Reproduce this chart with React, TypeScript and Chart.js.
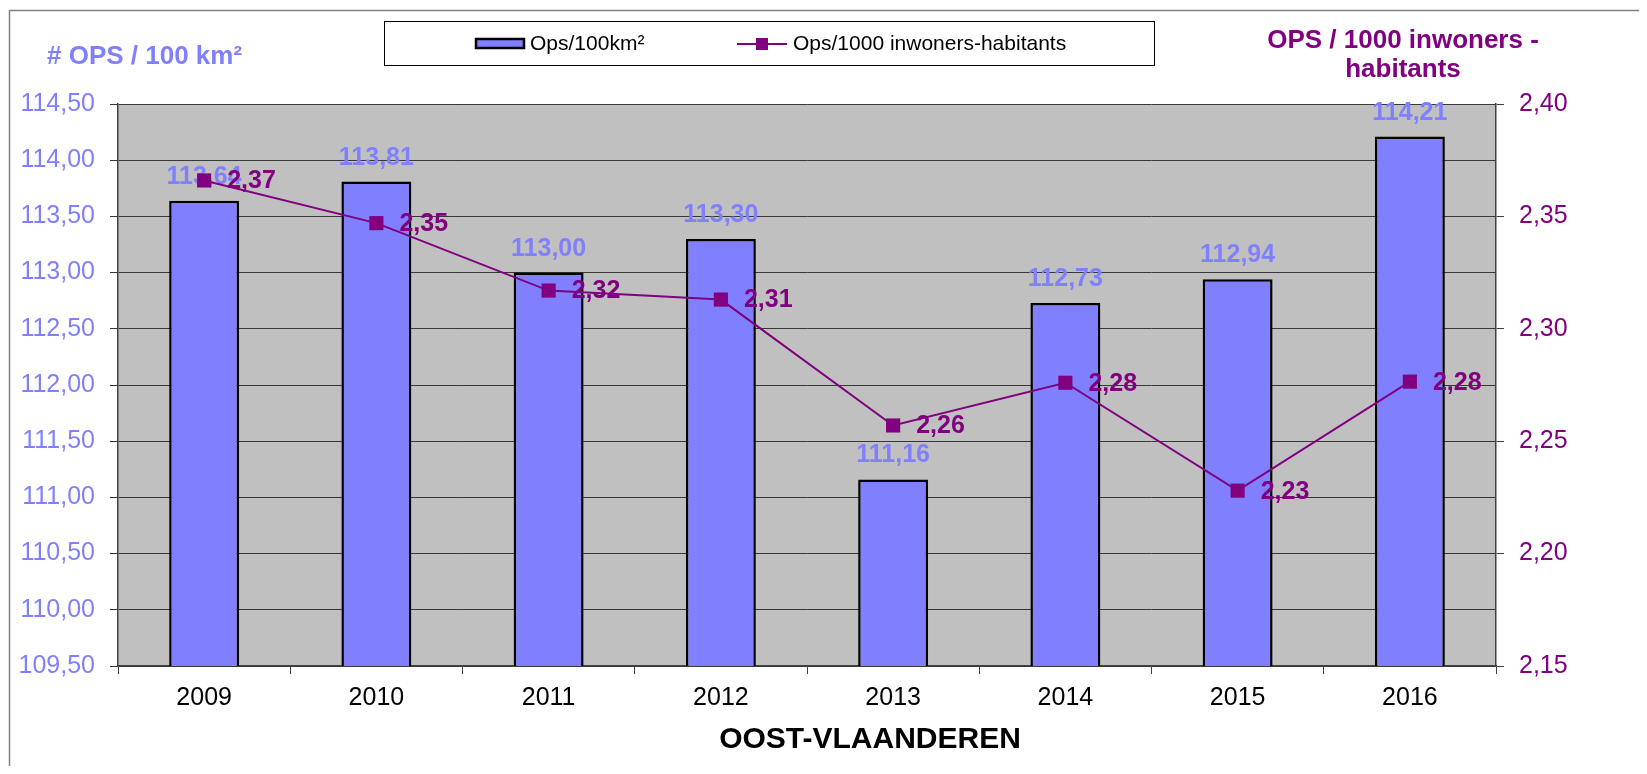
import React, { useEffect, useRef } from 'react';
import { Chart, registerables } from 'chart.js';

Chart.register(...registerables);

// ---- data ----
const years = ['2009', '2010', '2011', '2012', '2013', '2014', '2015', '2016'];
const opsPer100km2 = [113.64, 113.81, 113.0, 113.3, 111.16, 112.73, 112.94, 114.21];
const opsPer1000 = [2.366, 2.347, 2.317, 2.313, 2.257, 2.276, 2.228, 2.2765];
const legendLabels = ['Ops/100km²', 'Ops/1000 inwoners-habitants'];
const leftTitle = '# OPS / 100 km²';
const rightTitle = ['OPS / 1000 inwoners -', 'habitants'];
const xTitle = 'OOST-VLAANDEREN';

const FONT = '"Liberation Sans", Arial, sans-serif';
const BAR_COLOR = '#8080FF';
const LINE_COLOR = '#800080';
const W = 1631;
const H = 758;

const fmt = (v: number) => v.toFixed(2).replace('.', ',');

const decorPlugin = {
  id: 'decor',
  beforeDraw(chart: any) {
    const { ctx, chartArea } = chart;
    ctx.save();
    ctx.fillStyle = '#C0C0C0';
    ctx.fillRect(chartArea.left, chartArea.top, chartArea.right - chartArea.left, chartArea.bottom - chartArea.top);
    // outer frame
    ctx.strokeStyle = '#808080';
    ctx.lineWidth = 1.5;
    ctx.strokeRect(1.5, 2.5, W + 20, H + 20);
    ctx.restore();
  },
  afterDatasetDraw(chart: any, args: any) {
    if (args.index !== 0) return;
    const { ctx } = chart;
    const meta = chart.getDatasetMeta(0);
    ctx.save();
    ctx.font = `bold 25px ${FONT}`;
    ctx.fillStyle = BAR_COLOR;
    ctx.textAlign = 'center';
    ctx.textBaseline = 'alphabetic';
    meta.data.forEach((el: any, i: number) => {
      ctx.fillText(fmt(opsPer100km2[i]), el.x, el.y - 17);
    });
    ctx.restore();
  },
  afterDatasetsDraw(chart: any) {
    const { ctx } = chart;
    const meta = chart.getDatasetMeta(1);
    ctx.save();
    ctx.font = `bold 25px ${FONT}`;
    ctx.fillStyle = LINE_COLOR;
    ctx.textAlign = 'left';
    ctx.textBaseline = 'middle';
    meta.data.forEach((el: any, i: number) => {
      ctx.fillText(fmt(opsPer1000[i]), el.x + 23, el.y + 1);
    });
    ctx.restore();
  },
  afterDraw(chart: any) {
    const { ctx } = chart;
    ctx.save();
    // left axis title
    ctx.font = `bold 26px ${FONT}`;
    ctx.fillStyle = BAR_COLOR;
    ctx.textAlign = 'left';
    ctx.textBaseline = 'alphabetic';
    ctx.fillText(leftTitle, 39, 56);
    // right axis title
    ctx.fillStyle = LINE_COLOR;
    ctx.textAlign = 'center';
    ctx.fillText(rightTitle[0], 1395, 40);
    ctx.fillText(rightTitle[1], 1395, 69);
    // x title
    ctx.font = `bold 30px ${FONT}`;
    ctx.fillStyle = '#000';
    ctx.fillText(xTitle, 862, 740);
    // legend box
    ctx.fillStyle = '#fff';
    ctx.fillRect(376.5, 13.5, 770, 44);
    ctx.strokeStyle = '#000';
    ctx.lineWidth = 1;
    ctx.strokeRect(376.5, 13.5, 770, 44);
    // legend bar swatch
    ctx.fillStyle = BAR_COLOR;
    ctx.fillRect(467, 30, 50, 11);
    ctx.strokeStyle = '#000';
    ctx.lineWidth = 2.5;
    ctx.strokeRect(468, 31, 48, 9);
    ctx.font = `21px ${FONT}`;
    ctx.fillStyle = '#000';
    ctx.textAlign = 'left';
    ctx.textBaseline = 'middle';
    ctx.fillText(legendLabels[0], 522, 36);
    // legend line swatch
    ctx.strokeStyle = LINE_COLOR;
    ctx.lineWidth = 2;
    ctx.beginPath();
    ctx.moveTo(729, 36);
    ctx.lineTo(779, 36);
    ctx.stroke();
    ctx.fillStyle = LINE_COLOR;
    ctx.fillRect(748, 30, 12, 12);
    ctx.fillStyle = '#000';
    ctx.fillText(legendLabels[1], 785, 36);
    ctx.restore();
  },
};

export default function App() {
  const ref = useRef<HTMLCanvasElement | null>(null);
  useEffect(() => {
    if (!ref.current) return;
    Chart.defaults.font.family = FONT;
    const chart = new Chart(ref.current, {
      type: 'bar',
      data: {
        labels: years,
        datasets: [
          {
            type: 'bar',
            label: legendLabels[0],
            data: opsPer100km2,
            backgroundColor: BAR_COLOR,
            borderColor: '#000',
            borderWidth: 2.5,
            borderSkipped: false,
            barPercentage: 0.406,
            categoryPercentage: 1,
            yAxisID: 'y',
            order: 2,
          } as any,
          {
            type: 'line',
            label: legendLabels[1],
            data: opsPer1000,
            borderColor: LINE_COLOR,
            borderWidth: 2,
            backgroundColor: LINE_COLOR,
            pointStyle: 'rect',
            pointRadius: 10,
            pointBorderWidth: 0,
            pointBackgroundColor: LINE_COLOR,
            tension: 0,
            yAxisID: 'y1',
            order: 1,
          } as any,
        ],
      },
      options: {
        responsive: false,
        animation: false,
        devicePixelRatio: 1,
        layout: { padding: { top: 96, left: 0, right: 0, bottom: 0 } },
        plugins: {
          legend: { display: false },
          tooltip: { enabled: false },
          title: { display: false },
        },
        scales: {
          x: {
            type: 'category',
            offset: true,
            grid: {
              offset: true,
              drawOnChartArea: false,
              drawTicks: true,
              tickLength: 8,
              color: '#404040',
            },
            border: { display: true, color: '#404040', width: 1.5 },
            ticks: { color: '#000', font: { size: 25 }, padding: 9, maxRotation: 0 },
            afterFit: (s: any) => {
              s.height = 100;
            },
          },
          y: {
            type: 'linear',
            position: 'left',
            min: 109.5,
            max: 114.5,
            grid: { color: '#383838', lineWidth: 1, tickLength: 8 },
            border: { display: true, color: '#404040', width: 1.5 },
            ticks: {
              stepSize: 0.5,
              color: BAR_COLOR,
              font: { size: 25 },
              padding: 15,
              callback: (v: any) => fmt(Number(v)),
            },
            afterFit: (s: any) => {
              s.width = 110;
            },
          },
          y1: {
            type: 'linear',
            position: 'right',
            min: 2.15,
            max: 2.4,
            grid: { drawOnChartArea: false, color: '#404040', tickLength: 8 },
            border: { display: true, color: '#404040', width: 1.5 },
            ticks: {
              stepSize: 0.05,
              color: LINE_COLOR,
              font: { size: 25 },
              padding: 15,
              callback: (v: any) => fmt(Number(v)),
            },
            afterFit: (s: any) => {
              s.width = W - 1488;
            },
          },
        },
      },
      plugins: [decorPlugin],
    });
    return () => chart.destroy();
  }, []);
  return <canvas ref={ref} width={W} height={H} style={{ display: 'block', width: W, height: H }} />;
}
